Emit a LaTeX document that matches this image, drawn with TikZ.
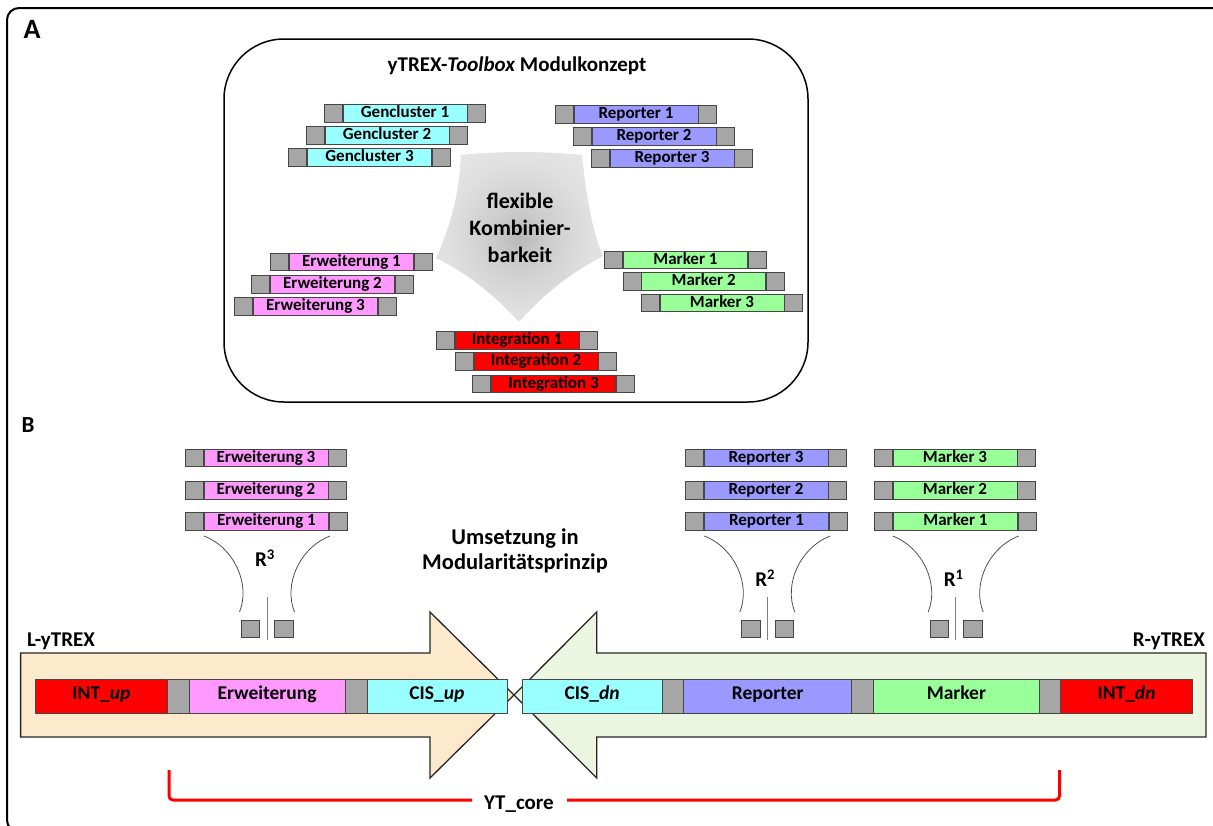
\documentclass[tikz,border=0pt]{standalone}
\usepackage{fontspec}
\setmainfont{Carlito}
\usetikzlibrary{calc}
\definecolor{cyanM}{RGB}{153,255,255}
\definecolor{blueM}{RGB}{153,153,255}
\definecolor{greenM}{RGB}{153,255,153}
\definecolor{pinkM}{RGB}{255,153,255}
\definecolor{redM}{RGB}{255,0,0}
\definecolor{capgray}{RGB}{166,166,166}
\definecolor{segline}{RGB}{70,70,70}
\definecolor{peach}{RGB}{253,233,204}
\definecolor{palegreen}{RGB}{235,245,224}
\definecolor{curvegray}{RGB}{80,80,80}
\definecolor{redline}{RGB}{255,0,0}
\pgfdeclareradialshading{pentashade}{\pgfpoint{0bp}{0bp}}{rgb(0bp)=(0.72,0.72,0.72); rgb(8bp)=(0.80,0.80,0.80); rgb(22bp)=(0.88,0.88,0.88); rgb(40bp)=(0.92,0.92,0.92); rgb(50bp)=(0.96,0.96,0.96)}
\newcommand\myfs[2]{\fontsize{#1}{#2}\selectfont\bfseries}
\tikzset{
  seg/.style={draw=segline, line width=0.8, inner sep=0, minimum height=17.5,
    text height=0.8em, text depth=0pt, font=\myfs{17}{20}},
  capbox/.style={seg, fill=capgray, minimum width=18},
  bigseg/.style={draw=segline, line width=0.8, inner sep=0, minimum height=34,
    text height=0.64em, text depth=0pt, font=\myfs{19.5}{22}, anchor=west},
  sq/.style={draw=segline, line width=0.8, fill=capgray, inner sep=0, minimum width=18.5, minimum height=16.5},
  curve/.style={draw=curvegray, line width=0.8},
  vline/.style={draw=gray, line width=0.8},
  rlab/.style={font=\myfs{21}{24}, inner sep=0},
  arrowshape/.style={draw=black!85, line width=1.3, line join=miter},
  lbl/.style={inner sep=0, align=center},
  ytline/.style={draw=redline, line width=3, rounded corners=4},
}
\newcommand\mbar[5]{%
  \node[seg, fill=#4, minimum width=124] (#1) at (#2,#3) {#5};
  \node[capbox, anchor=east] (#1l) at (#1.west) {};
  \node[capbox, anchor=west] (#1r) at (#1.east) {};
}
\newcommand\bseg[5]{%
  \node[bigseg, fill=#4, minimum width=#3] (#1) at (#2,696) {#5};
}
\newcommand\rlink[4]{%
  \coordinate (#1lt) at ({#2-63},536);
  \coordinate (#1lb) at ({#2-27.5},612);
  \coordinate (#1rt) at ({#2+63},536);
  \coordinate (#1rb) at ({#2+27.5},612);
  \draw[curve] (#1lt) .. controls +(31,12) and +(11,-27) .. (#1lb);
  \draw[curve] (#1rt) .. controls +(-31,12) and +(-11,-27) .. (#1rb);
  \node[rlab] (#1lab) at ({#2-2},#3) {R\textsuperscript{#4}};
  \coordinate (#1vt) at (#2,597);
  \coordinate (#1vb) at (#2,640);
  \draw[vline] (#1vt) -- (#1vb);
  \node[sq] (#1sl) at ({#2-16.5},629) {};
  \node[sq] (#1sr) at ({#2+17},629) {};
}
\begin{document}
\begin{tikzpicture}[x=1pt,y=-1pt]
\useasboundingbox (0,0) rectangle (1213,825);
\begin{scope}
  \clip (0,0) rectangle (1213,825);
  \draw[line width=2, rounded corners=12] (7,8) rectangle (1224,832);
\end{scope}

% ---------- Panel A ----------
\node[lbl, font=\myfs{28}{32}] (labA) at (32,29) {A};
\node[draw=black, line width=1.5, rounded corners=60, minimum width=584, minimum height=363, inner sep=0] (boxA) at (516,220.5) {};
\node[lbl, font=\myfs{21}{25}] (title) at (517,66) {yTREX-\textit{Toolbox} Modulkonzept};

\path[shading=pentashade]
  (461,155) .. controls (500,151) and (543,151) .. (582,155)
  .. controls (586,192) and (591,228) .. (603,256)
  .. controls (569,274) and (544,294) .. (519,322)
  .. controls (494,295) and (470,275) .. (436,258)
  .. controls (451,225) and (459,194) .. (461,155) -- cycle;
\node[lbl, font=\myfs{22}{27}] (flex) at (520,228) {flexible\\Kombinier-\\barkeit};

\mbar{gcA}{405}{113.5}{cyanM}{Gencluster 1}
\mbar{gcB}{387}{135.5}{cyanM}{Gencluster 2}
\mbar{gcC}{369.5}{157.5}{cyanM}{Gencluster 3}
\mbar{rpA}{636}{114.5}{blueM}{Reporter 1}
\mbar{rpB}{654}{136.5}{blueM}{Reporter 2}
\mbar{rpC}{672}{158.5}{blueM}{Reporter 3}
\mbar{ewA}{351.5}{262}{pinkM}{Erweiterung 1}
\mbar{ewB}{332.5}{284.5}{pinkM}{Erweiterung 2}
\mbar{ewC}{315.5}{306.5}{pinkM}{Erweiterung 3}
\mbar{mkA}{685.5}{260}{greenM}{Marker 1}
\mbar{mkB}{703.7}{281.5}{greenM}{Marker 2}
\mbar{mkC}{722}{303}{greenM}{Marker 3}
\mbar{igA}{517}{340.5}{redM}{Integration 1}
\mbar{igB}{536}{361.5}{redM}{Integration 2}
\mbar{igC}{553.5}{384}{redM}{Integration 3}

% ---------- Panel B ----------
\node[lbl, font=\myfs{23}{27}] (labB) at (28,425) {B};

\mbar{bewC}{266}{458}{pinkM}{Erweiterung 3}
\mbar{bewB}{266}{490.5}{pinkM}{Erweiterung 2}
\mbar{bewA}{266.5}{521.5}{pinkM}{Erweiterung 1}
\mbar{brpC}{766}{458}{blueM}{Reporter 3}
\mbar{brpB}{766}{490.5}{blueM}{Reporter 2}
\mbar{brpA}{766.5}{521.5}{blueM}{Reporter 1}
\mbar{bmkC}{955}{458}{greenM}{Marker 3}
\mbar{bmkB}{955}{490.5}{greenM}{Marker 2}
\mbar{bmkA}{955.5}{521.5}{greenM}{Marker 1}

\rlink{rthree}{267}{558}{3}
\rlink{rtwo}{767.3}{578}{2}
\rlink{rone}{955.7}{578}{1}

\node[lbl, font=\myfs{22.5}{25}] (umsetz) at (515,551) {Umsetzung in\\Modularitätsprinzip};

% arrows
\draw[arrowshape, fill=peach] (20.6,653) -- (430,653) -- (430,612) -- (514,695) -- (430,778) -- (430,737) -- (20.6,737) -- cycle;
\draw[arrowshape, fill=palegreen] (1206,653) -- (596.7,653) -- (596.7,612) -- (514,695) -- (596.7,778) -- (596.7,737) -- (1206,737) -- cycle;

\node[lbl, font=\myfs{21}{25}, anchor=west] (ly) at (27,641) {L-yTREX};
\node[lbl, font=\myfs{21}{25}, anchor=east] (ry) at (1205,641) {R-yTREX};

\bseg{intup}{34.8}{132.5}{redM}{INT\_\textit{up}}
\bseg{gapA}{167.3}{21.3}{capgray}{}
\bseg{erw}{188.6}{156.2}{pinkM}{Erweiterung}
\bseg{gapB}{344.8}{21.7}{capgray}{}
\bseg{cisup}{366.5}{140}{cyanM}{CIS\_\textit{up}}
\bseg{cisdn}{521.7}{140.1}{cyanM}{CIS\_\textit{dn}}
\bseg{gapC}{661.8}{21.5}{capgray}{}
\bseg{rep}{683.3}{168.1}{blueM}{Reporter}
\bseg{gapD}{851.4}{21.5}{capgray}{}
\bseg{mark}{872.9}{166.1}{greenM}{Marker}
\bseg{gapE}{1039}{21}{capgray}{}
\bseg{intdn}{1060}{132.3}{redM}{INT\_\textit{dn}}

% YT_core bracket
\node[lbl, font=\myfs{21}{25}] (yt) at (519,804) {YT\_core};
\coordinate (ytl) at (169,770);
\coordinate (ytml) at (472,800);
\coordinate (ytmr) at (567,800);
\coordinate (ytr) at (1059.5,770);
\draw[ytline] (ytl) |- (ytml);
\draw[ytline] (ytmr) -| (ytr);
\end{tikzpicture}
\end{document}
